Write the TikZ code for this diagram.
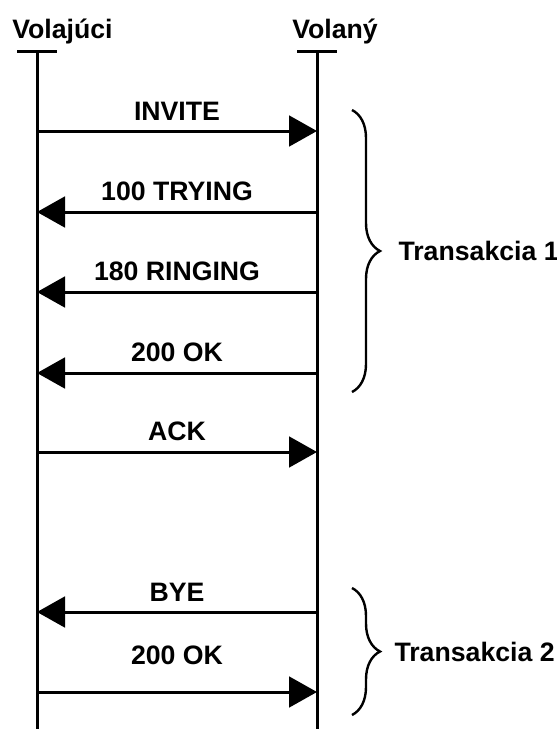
\documentclass[tikz,border=0pt]{standalone}
\usepackage{fontspec}
\setmainfont{Liberation Sans}
\usepackage{tikz}
\usetikzlibrary{arrows.meta,decorations.pathreplacing}

\tikzset{
  lifeline/.style={line width=2.25pt},
  msg/.style={line width=2.25pt, -{Triangle[length=21pt,width=23pt]}},
  msglbl/.style={midway, above=7pt, inner sep=0pt},
  brc/.style={line width=1.8pt, decorate, decoration={brace, amplitude=21pt}},
  txt/.style={font=\fontsize{20}{23}\selectfont\bfseries, inner sep=0pt}
}

\begin{document}
\begin{tikzpicture}[x=0.75pt, y=-0.75pt, every node/.style={txt}]
				\useasboundingbox (0, 0) rectangle (557, 729);
				% lifelines
				\coordinate (callertop) at (37, 51);
				\coordinate (callerbot) at (37, 729);
				\coordinate (calleetop) at (317, 51);
				\coordinate (calleebot) at (317, 729);
				\draw[lifeline] (callertop) -- (callerbot);
				\draw[lifeline] (calleetop) -- (calleebot);
				\draw[lifeline] ([xshift=-15pt]callertop) -- ([xshift=15pt]callertop);
				\draw[lifeline] ([xshift=-15pt]calleetop) -- ([xshift=15pt]calleetop);
				\node[anchor=base west] (caller) at (12, 38) {Volajúci};
				\node[anchor=base west] (callee) at (292, 38) {Volaný};
				% message rows
				\foreach \i/\y in {1/131, 2/212, 3/292, 4/373, 5/452, 6/612, 7/692}
				{
					\coordinate (c\i) at (37, \y);
					\coordinate (e\i) at (317, \y);
				}
				\draw[msg] (c1) -- (e1) node[msglbl] (m1) {INVITE};
				\draw[msg] (e2) -- (c2) node[msglbl] (m2) {100 TRYING};
				\draw[msg] (e3) -- (c3) node[msglbl] (m3) {180 RINGING};
				\draw[msg] (e4) -- (c4) node[msglbl] (m4) {200 OK};
				\draw[msg] (c5) -- (e5) node[msglbl] (m5) {ACK};
				\draw[msg] (e6) -- (c6) node[msglbl] (m6) {BYE};
				\draw[msg] (c7) -- (e7) node[msglbl, above=12pt] (m7) {200 OK};
				% transactions
				\coordinate (t1top) at (352, 110);
				\coordinate (t1bot) at (352, 392);
				\coordinate (t2top) at (352, 588);
				\coordinate (t2bot) at (352, 715);
				\draw[brc] (t1top) -- (t1bot) node[midway, right=34pt] (t1) {Transakcia 1};
				\draw[brc] (t2top) -- (t2bot) node[midway, right=31pt] (t2) {Transakcia 2};
			\end{tikzpicture}
\end{document}
